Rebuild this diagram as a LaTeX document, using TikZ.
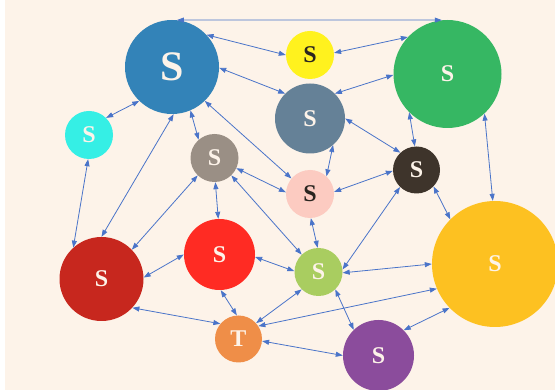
\documentclass[tikz,border=0pt]{standalone}
\usepackage{fontspec}
\setmainfont{Liberation Serif}
\usetikzlibrary{arrows.meta}

\definecolor{paper}{HTML}{FDF3E9}
\definecolor{edgeblue}{HTML}{4A74C9}
\definecolor{lighttext}{HTML}{FDF3E9}
\definecolor{darktext}{HTML}{2A2520}
\definecolor{cA}{HTML}{3383B8}
\definecolor{cB}{HTML}{35EFE5}
\definecolor{cC}{HTML}{FFF21E}
\definecolor{cD}{HTML}{658197}
\definecolor{cE}{HTML}{36B763}
\definecolor{cF}{HTML}{9A8F85}
\definecolor{cG}{HTML}{3E342B}
\definecolor{cH}{HTML}{FCCBC1}
\definecolor{cI}{HTML}{A9CD60}
\definecolor{cJ}{HTML}{FDC121}
\definecolor{cK}{HTML}{C7271E}
\definecolor{cL}{HTML}{FF2B23}
\definecolor{cM}{HTML}{EF8E48}
\definecolor{cN}{HTML}{8B4C9C}

\begin{document}
\begin{tikzpicture}[x=1pt,y=-1pt,
  bubble/.style={circle, inner sep=0pt, draw=none, text=lighttext,
    font=\bfseries\fontsize{24}{24}\selectfont},
  bigbubble/.style={bubble, font=\bfseries\fontsize{42}{42}\selectfont},
  link/.style={draw=edgeblue, line width=0.8pt,
    {Triangle[length=7pt,width=5pt]}-{Triangle[length=7pt,width=5pt]}}]

% canvas
\useasboundingbox (0,0) rectangle (555,390);
\fill[white] (0,0) rectangle (555,390);
\fill[paper] (5,0) rectangle (555,390);

% nodes
\node[bigbubble, fill=cA, minimum size=94pt] (A) at (172,67) {S};
\node[bubble, fill=cB, minimum size=48pt] (B) at (89,135) {S};
\node[bubble, fill=cC, minimum size=48pt, text=darktext] (C) at (310,55) {S};
\node[bubble, fill=cD, minimum size=70pt] (D) at (310,118.5) {S};
\node[bubble, fill=cE, minimum size=108pt] (E) at (447.5,74) {S};
\node[bubble, fill=cF, minimum size=48pt] (F) at (214.5,158) {S};
\node[bubble, fill=cG, minimum size=47pt] (G) at (416.5,170) {S};
\node[bubble, fill=cH, minimum size=48pt, text=darktext] (H) at (310,194) {S};
\node[bubble, fill=cI, minimum size=48pt] (I) at (318.5,272) {S};
\node[bubble, fill=cJ, minimum size=126pt] (J) at (495,264) {S};
\node[bubble, fill=cK, minimum size=84pt] (K) at (101.5,279) {S};
\node[bubble, fill=cL, minimum size=71pt] (L) at (219.5,254.5) {S};
\node[bubble, fill=cM, minimum size=47pt] (M) at (238.5,339) {T};
\node[bubble, fill=cN, minimum size=71pt] (N) at (378.5,355.5) {S};

% connectors
\draw[link] (A.84) -- (E.96);
\draw[link] (A.43) -- (C.180);
\draw[link] (A.-1) -- (D.135);
\draw[link] (A.226) -- (B.45);
\draw[link] (A.-67) -- (F.131);
\draw[link] (A.-88) -- (K.90);
\draw[link] (A.-46) -- (H.140);
\draw[link] (E.137) -- (C.5);
\draw[link] (E.181) -- (D.45);
\draw[link] (E.225) -- (G.94);
\draw[link] (E.-47) -- (J.92);
\draw[link] (D.0) -- (G.133);
\draw[link] (D.-49) -- (H.47);
\draw[link] (G.182) -- (H.5);
\draw[link] (G.226) -- (I.6);
\draw[link] (G.-44) -- (J.135);
\draw[link] (F.-25) -- (H.176);
\draw[link] (F.-88) -- (L.92);
\draw[link] (F.226) -- (K.44);
\draw[link] (F.-46) -- (I.134);
\draw[link] (B.-92) -- (K.132);
\draw[link] (H.-88) -- (I.92);
\draw[link] (L.-4) -- (I.178);
\draw[link] (L.180) -- (K.2);
\draw[link] (L.-88) -- (M.94);
\draw[link] (K.-43) -- (M.140);
\draw[link] (I.226) -- (M.42);
\draw[link] (J.203) -- (M.33);
\draw[link] (I.-2) -- (J.180);
\draw[link] (I.-46) -- (N.134);
\draw[link] (N.45) -- (J.224);
\draw[link] (M.-5) -- (N.180);
\end{tikzpicture}
\end{document}
